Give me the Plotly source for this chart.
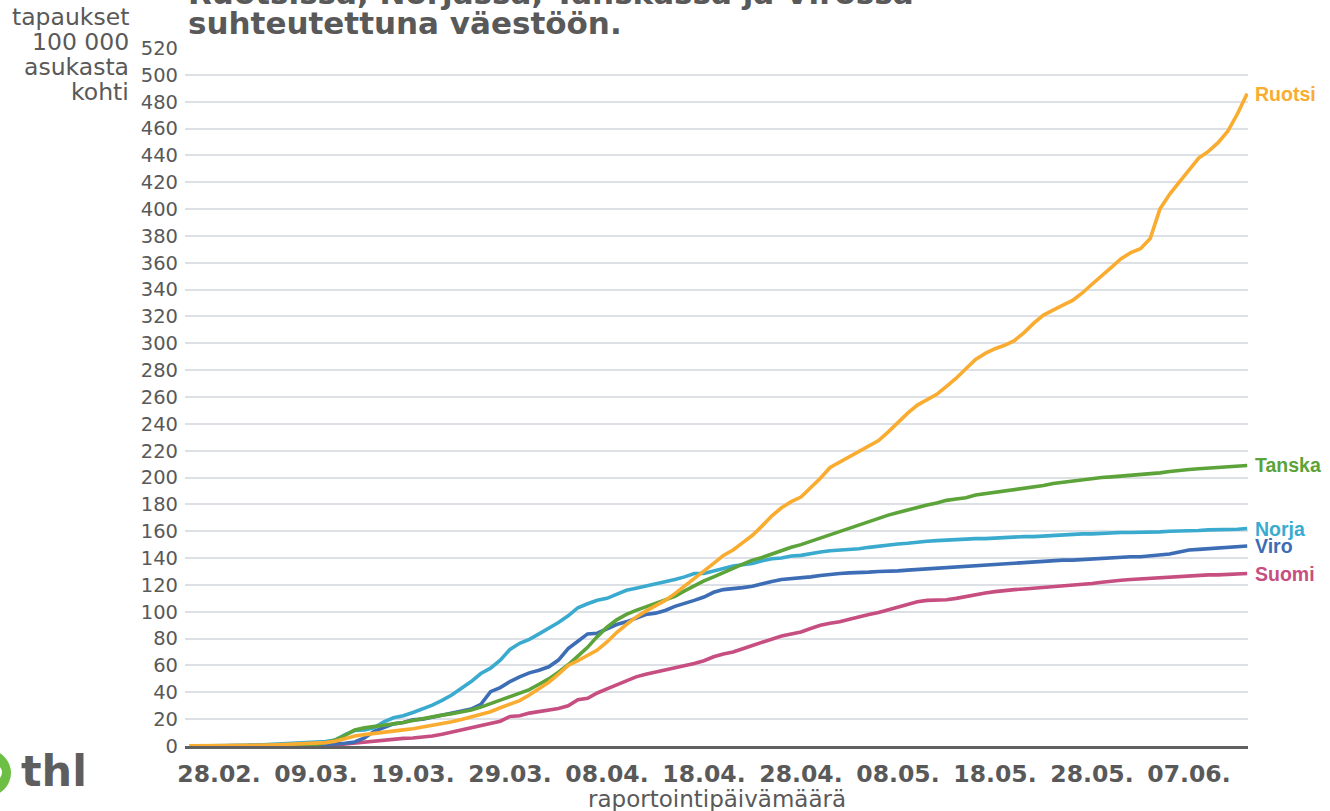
import pandas as pd
import plotly.graph_objects as go

start_date = "2020-02-25"
n_days = 110

ruotsi = [0.1,0.1,0.1,0.2,0.2,0.3,0.4,0.5,0.7,0.9,1.1,1.3,
          1.5,2.0,2.5,3.5,5.3,7.4,8.5,9.5,10.5,11,12,
          12.8,14,15.5,17,18,19.7,21.5,23.8,25.5,28.5,
          31.3,33.8,38,43,47.5,53.5,60,63.5,67.5,71.5,
          77.5,84.5,90.5,96,100.5,104.5,108.5,113.5,119,124.5,
          130,136,142,146,151.5,157,164,171.5,177.5,182,
          185.5,192.5,199.5,207.5,211.5,216,220,223.5,227.5,234,
          241,248,254,258,262,268,274,281,288,292.5,
          296,298.5,302,308,315,321,325,328.5,332,337.5,
          344,350,356.5,363,367.5,370.5,378,400,411,420,
          428.5,438,443,449.5,458,471,486]
tanska = [0,0,0,0,0,0,0.1,0.1,0.3,0.4,0.5,0.7,
          0.9,1.2,2.5,4.5,8,12,13.5,14.5,15,16,17.5,
          19,20.5,22,23,24,25.3,26.8,29,31.5,34,
          37,39,42,46,50,55,60.5,67,73.5,81.5,
          88.5,94,98,101,103.5,106,109,111.5,115.5,119.3,
          123,126,129.5,132.3,135.5,138.5,140.5,143,146,148,
          150,152.5,155,157.5,160,162,164.5,167,170,172,
          174,176,178,179.5,181,183,184,185,187,188,
          188.5,190,191,192,192.5,194,195.5,196.5,197,198,
          199,200,200.5,201,202,202.5,203,203.5,204.5,205.5,
          206,206.5,207,207.5,207.5,208,209]
norja = [0,0,0,0.1,0.2,0.3,0.5,0.8,1.2,1.6,2,2.3,
         2.7,3.0,3.3,4.5,8.5,11.5,12,13.5,18,21,22.5,
         25,27.5,30.5,34,38,43,48,54,58,64,
         72,76.5,79.5,83.5,87.5,92,97,103,106,108.5,
         110,113,116,117.5,119,120.5,122.5,124,126,128.5,
         128.5,130.5,132.5,134,135,136,138,139.5,140,141.5,
         142,143.5,144.5,145.5,146,146,147,148,149,150,
         150.5,151,152,152.5,153,153.5,154,154,154.5,154.5,
         155,155.5,155.5,156,156,156.5,157,157,157.5,158,
         158,158.5,158.5,159,159,159,159.5,159.5,160,160,
         160.5,160.5,161,161,161.5,161.5,162]
viro = [0,0,0,0,0,0,0,0,0.1,0.1,0.2,0.3,
        0.5,0.8,1.0,1.2,2,3,6,11,14,16.5,17.5,
        19.5,20,21.5,23,24.5,26,27.5,31,40.5,43.5,
        48,51.5,54.5,56.5,59,64,72.5,78,83.5,84,
        87,90.5,92.5,95,98,99,101,104,106,108.5,
        111,114.5,116.5,117,118,119,121,122.5,124,124.5,
        125,126,127,128,128.5,129,129,129.5,130,130,
        130.5,131,131.5,132,132.5,133,133.5,134,134.5,135,
        135.5,136,136,136.5,137,137.5,138,138.5,138.5,139,
        139.5,140,140.5,141,141,141,141.5,142,143,144.5,
        146,146.5,147,147.5,148,148.5,149]
suomi = [0,0,0,0,0,0,0,0,0,0,0,0.1,
         0.2,0.4,0.5,0.8,1.5,2.5,3.2,4,4.5,5.3,5.7,
         6,6.5,7.5,8.8,10.5,12,13.7,15.5,17,18.5,
         22,22.5,24.5,25.8,27,28,30,34.5,35.5,39.5,
         42.5,45.5,48.5,51.5,53.5,55,56.5,58,59.5,61.5,
         63.5,66.5,68.5,70,72.5,75,77.5,79.5,82,83.5,
         85,87.5,90,91.5,92.5,94.5,96.5,98,99.5,101.5,
         103.5,106,107.5,108.5,108.5,109,110,111.5,113,114,
         115,116,116.5,117,117.5,118.5,119,119.5,120,120.5,
         121,122,123,123.5,124,124.5,125,125,125.5,126,
         126.5,127,127.5,127.5,128,128,128.5]

series_names = ["Suomi", "Viro", "Norja", "Tanska", "Ruotsi"]
series_values = [suomi, viro, norja, tanska, ruotsi]
series_colors = ["#C64E80", "#3C6DB5", "#3AABCE", "#5CA33A", "#F9AC2F"]

tick_dates = ["2020-02-28", "2020-03-09", "2020-03-19", "2020-03-29", "2020-04-08",
              "2020-04-18", "2020-04-28", "2020-05-08", "2020-05-18", "2020-05-28",
              "2020-06-07"]
tick_labels = ["28.02.", "09.03.", "19.03.", "29.03.", "08.04.", "18.04.",
               "28.04.", "08.05.", "18.05.", "28.05.", "07.06."]
y_ticks = list(range(0, 521, 20))

dates = pd.date_range(start_date, periods=n_days, freq="D")

GREY = "#595959"
W, H = 1330, 811
# plot area in page pixels: x 185..1248, y 48..746 (body margin removed below)
L = 185
R = W - 1248
T = 48
B = H - 746
pw, ph = W - L - R, H - T - B


def px_x(px):
    return (px - L) / pw


def px_y(py):
    return (H - B - py) / ph


fig = go.Figure()
for name, vals, col in zip(series_names, series_values, series_colors):
    fig.add_trace(go.Scatter(x=dates, y=vals, mode="lines", name=name,
                             line=dict(color=col, width=3.6), hoverinfo="x+y+name"))
    fig.add_annotation(x=dates[len(vals) - 1], y=vals[-1], xref="x", yref="y",
                       text="<b>%s</b>" % name, showarrow=False, xanchor="left",
                       yanchor="middle", xshift=6,
                       font=dict(family="Liberation Sans", size=19.5, color=col))

fig.update_layout(
    width=W, height=H, margin=dict(l=L, r=R, t=T, b=B),
    paper_bgcolor="white", plot_bgcolor="white", showlegend=False,
    font=dict(family="DejaVu Sans", color=GREY),
    xaxis=dict(type="date", range=["2020-02-24 12:00", "2020-06-13 02:00"],
               tickvals=tick_dates, ticktext=tick_labels, showgrid=False,
               zeroline=False, showline=True, linecolor="#616161", linewidth=3,
               ticks="", ticklabelstandoff=5,
               tickfont=dict(family="DejaVu Sans", size=23.5, color=GREY, weight="bold")),
    yaxis=dict(range=[0, 520], tickvals=y_ticks, showgrid=True, gridcolor="#DDE1E5",
               gridwidth=1.5, zeroline=False, showline=False, ticks="",
               tickfont=dict(family="DejaVu Sans", size=19.5, color=GREY), ticklabelstandoff=6),
)

# y axis title lines
for txt, py in zip(["tapaukset", "100 000", "asukasta", "kohti"], [17, 42, 67, 92]):
    fig.add_annotation(x=px_x(131), y=px_y(py), xref="paper", yref="paper", text=txt,
                       showarrow=False, xanchor="right", yanchor="middle",
                       font=dict(family="DejaVu Sans", size=23.5, color=GREY))

# title (first line partially cut at the top, as in the original)
for txt, py in zip(["Ruotsissa, Norjassa, Tanskassa ja Virossa", "suhteutettuna väestöön."], [-7, 23]):
    fig.add_annotation(x=px_x(186), y=px_y(py), xref="paper", yref="paper",
                       text="<b>%s</b>" % txt, showarrow=False, xanchor="left",
                       yanchor="middle", font=dict(family="DejaVu Sans", size=31, color=GREY))

# x axis title
fig.add_annotation(x=0.5, y=px_y(799), xref="paper", yref="paper",
                   text="raportointipäivämäärä", showarrow=False, xanchor="center",
                   yanchor="middle", font=dict(family="DejaVu Sans", size=23, color=GREY))

# logo
fig.add_shape(type="circle", xref="paper", yref="paper",
              x0=px_x(-35), x1=px_x(11), y0=px_y(796), y1=px_y(750),
              fillcolor="#6DBE45", line=dict(width=0))
fig.add_shape(type="circle", xref="paper", yref="paper",
              x0=px_x(-20), x1=px_x(2), y0=px_y(782), y1=px_y(763),
              fillcolor="white", line=dict(width=0))
fig.add_annotation(x=px_x(19), y=px_y(771), xref="paper", yref="paper",
                   text="<b>thl</b>", showarrow=False, xanchor="left", yanchor="middle",
                   font=dict(family="DejaVu Sans", size=43, color="#5E5E5E"))

fig.write_html("out.html", config={"displayModeBar": False},
               post_script="document.body.style.margin='0';document.body.style.overflow='hidden';")
